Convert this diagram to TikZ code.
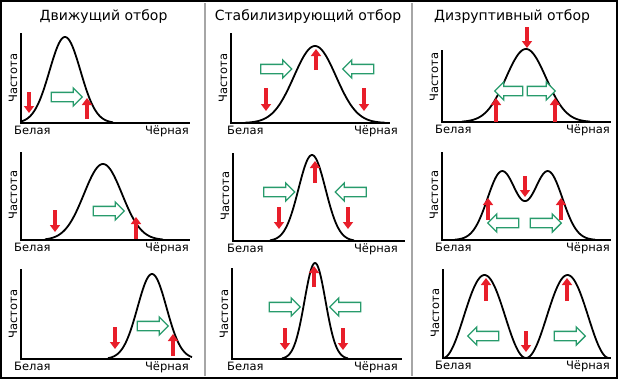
\documentclass[tikz,border=0pt]{standalone}
\usepackage{fontspec}
\setmainfont{DejaVu Sans}
\usetikzlibrary{arrows.meta, shapes.arrows}

\definecolor{selred}{RGB}{232,30,42}
\definecolor{selgreen}{RGB}{40,155,108}

\tikzset{
  axis/.style={line width=1.3pt},
  curve/.style={line width=1.8pt, line join=round},
  sep/.style={gray!70, line width=1.5pt},
  redarrow/.style={selred, line width=4pt, -{Triangle[length=7pt, width=10pt]}},
  greenarrow/.style={single arrow, draw=selgreen, fill=white, line width=1.3pt,
    inner sep=4pt, single arrow head extend=4.5pt, minimum height=31pt},
  title/.style={font=\fontsize{14}{16}\selectfont, anchor=base},
  lbl/.style={font=\fontsize{11.5}{13}\selectfont, inner sep=0pt},
}

\begin{document}
\begin{tikzpicture}[x=1pt, y=-1pt]
    \useasboundingbox (0,0) rectangle (619,380);
    % Frame and column separators
    \draw [line width=1.5pt] (1,1) rectangle (617,378);
    \draw [sep] (205,3) -- (205,376);
    \draw [sep] (412,3) -- (412,376);

    % Titles
    \node [title] (head1) at (103.5,20.5) {Движущий отбор};
    \node [title] (head2) at (308,20.5) {Стабилизирующий отбор};
    \node [title] (head3) at (512,20.5) {Дизруптивный отбор};

    % Draw axes
    \foreach \ox/\ex/\ty/\by/\wl/\br [count=\i] in {
        21/190/33/123/14/189, 231/390/33/123/227/398, 442/611/50/122/435/610,
        21/190/152/240/14/189, 233/405/153/241/227/398, 442/611/152/240/435/610,
        21/190/269/359/14/189, 232/402/268/359/227/398, 443/611/269/358/435/610} {
        \coordinate (top\i) at (\ox,\ty);
        \coordinate (org\i) at (\ox,\by);
        \coordinate (end\i) at (\ex,\by);
        \draw [axis] (top\i) -- (org\i) -- (end\i);
        \node [lbl, anchor=base west] (white\i) at (\wl,\by+11) {Белая};
        \node [lbl, anchor=base east] (black\i) at (\br,\by+11) {Чёрная};
        \node [lbl, rotate=90] (freq\i) at (\ox-8,\by-45) {Частота};
    }

    % Directional selection
    \draw [curve] plot [smooth, domain=21:113, samples=90] (\x, {123-86*exp(-(\x-65)*(\x-65)/480)});
    \draw [curve] plot [smooth, domain=45:163, samples=90] (\x, {240-76*exp(-(\x-103)*(\x-103)/722)});
    \draw [curve] plot [smooth, domain=108:192, samples=90] (\x, {359-85*exp(-(\x-152)*(\x-152)/420)});
    \draw [redarrow] (29,92) -- (29,113);
    \draw [redarrow] (87,119) -- (87,98);
    \draw [redarrow] (55,210) -- (55,232);
    \draw [redarrow] (136,239) -- (136,217);
    \draw [redarrow] (115,327) -- (115,349);
    \draw [redarrow] (173,356) -- (173,334);
    \node [greenarrow] (g1) at (64.5,97) {};
    \node [greenarrow] (g2) at (106.5,211) {};
    \node [greenarrow] (g3) at (150.5,326) {};

    % Stabilizing selection
    \draw [curve] plot [smooth, domain=245:385, samples=90] (\x, {123-77*exp(-(\x-315)*(\x-315)/882)});
    \draw [curve] plot [smooth, domain=270:354, samples=90] (\x, {241-86*exp(-(\x-312)*(\x-312)/364)});
    \draw [curve] plot [smooth, domain=282:348, samples=90] (\x, {359-96*exp(-(\x-315)*(\x-315)/220)});
    \draw [redarrow] (316,70) -- (316,49);
    \draw [redarrow] (266,88) -- (266,111);
    \draw [redarrow] (364,88) -- (364,111);
    \draw [redarrow] (315,183) -- (315,161);
    \draw [redarrow] (279,207) -- (279,229);
    \draw [redarrow] (348,207) -- (348,229);
    \draw [redarrow] (314,287) -- (314,266);
    \draw [redarrow] (285,328) -- (285,350);
    \draw [redarrow] (343,328) -- (343,350);
    \node [greenarrow] (g4) at (274,69) {};
    \node [greenarrow, shape border rotate=180] (g5) at (360.5,69) {};
    \node [greenarrow] (g6) at (277,192) {};
    \node [greenarrow, shape border rotate=180] (g7) at (353,192) {};
    \node [greenarrow] (g8) at (282.5,307) {};
    \node [greenarrow, shape border rotate=180] (g9) at (347.5,307) {};

    % Disruptive selection
    \draw [curve] plot [smooth, domain=462:590, samples=90] (\x, {122-73*exp(-(\x-526)*(\x-526)/800)});
    \draw [curve] plot [smooth, domain=455:595, samples=120]
        (\x, {240-68.5*(exp(-(\x-502)*(\x-502)/420)+exp(-(\x-548)*(\x-548)/420))});
    \draw [curve] plot [smooth, domain=443:609, samples=140]
        (\x, {358-83*sin((\x-443)*2.16867)*sin((\x-443)*2.16867)});
    \draw [redarrow] (527,27) -- (527,48);
    \draw [redarrow] (496,122) -- (496,98);
    \draw [redarrow] (555,122) -- (555,98);
    \draw [redarrow] (525,176) -- (525,197);
    \draw [redarrow] (488,220) -- (488,198);
    \draw [redarrow] (561,220) -- (561,198);
    \draw [redarrow] (486,301) -- (486,278);
    \draw [redarrow] (567,301) -- (567,278);
    \draw [redarrow] (526,331) -- (526,352);
    \node [greenarrow, minimum height=28pt, shape border rotate=180] (g10) at (511,91) {};
    \node [greenarrow, minimum height=28pt] (g11) at (539,91) {};
    \node [greenarrow, shape border rotate=180] (g12) at (505.5,223) {};
    \node [greenarrow] (g13) at (543.5,223) {};
    \node [greenarrow, shape border rotate=180] (g14) at (485.5,336) {};
    \node [greenarrow] (g15) at (567.5,336) {};
\end{tikzpicture}
\end{document}
